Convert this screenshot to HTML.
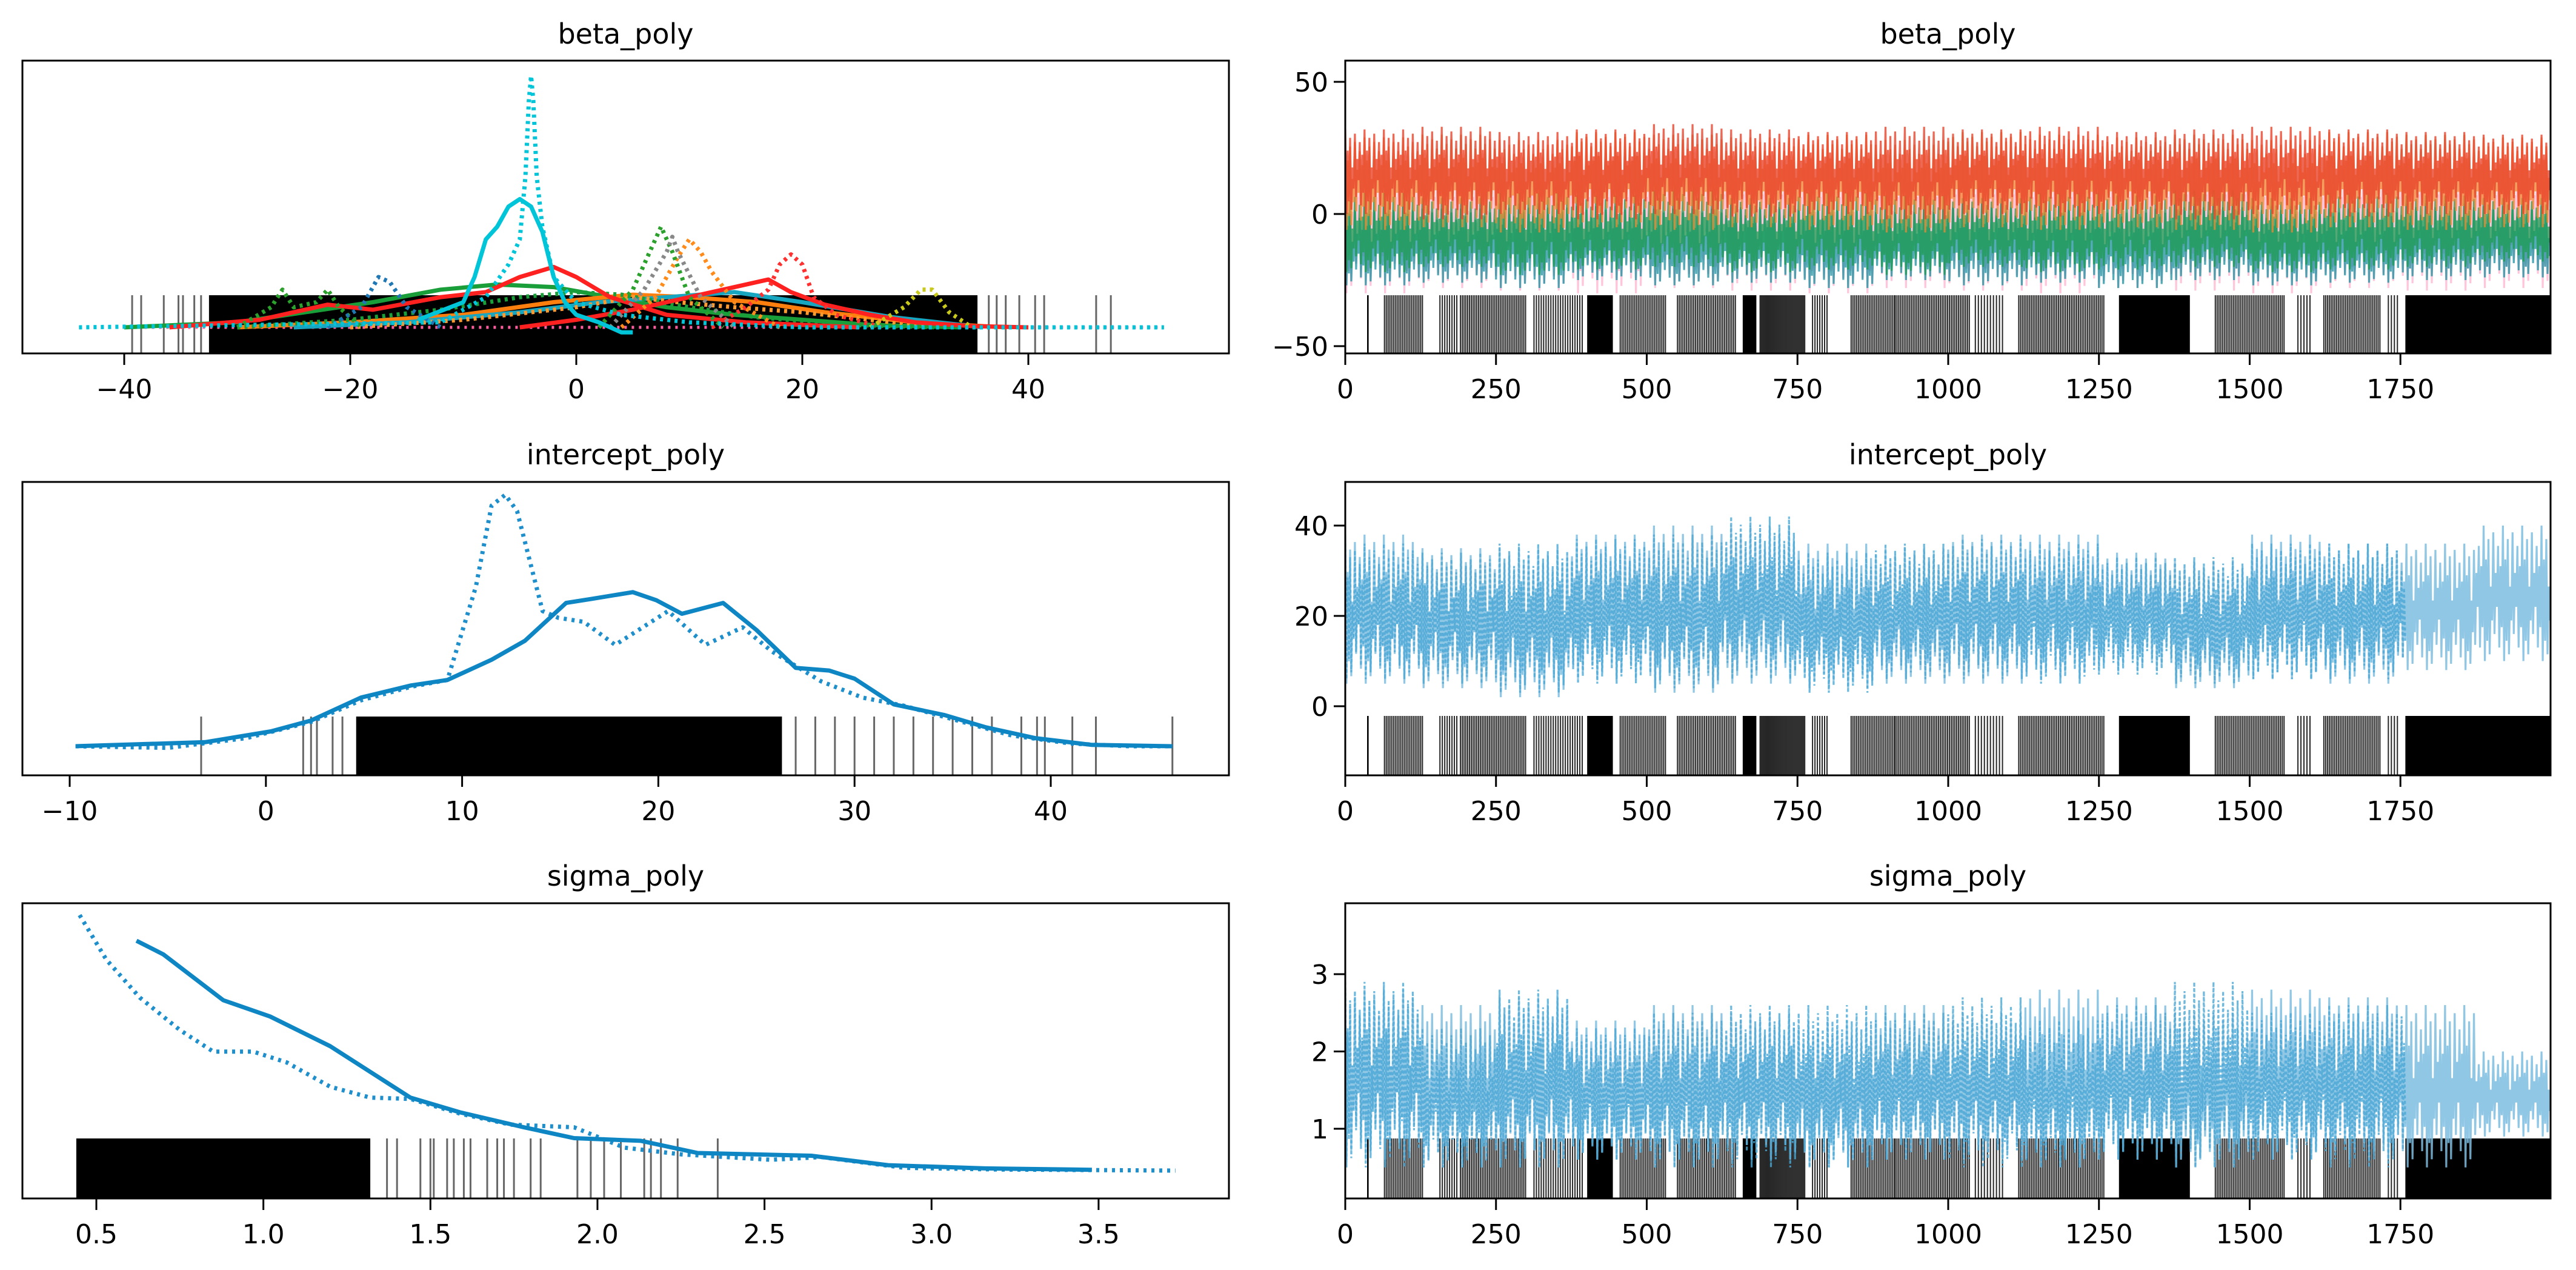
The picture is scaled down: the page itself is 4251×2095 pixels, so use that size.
<!DOCTYPE html>
<html><head><meta charset="utf-8"><style>
html,body{margin:0;padding:0;background:#fff;}
svg{display:block;}
text{font-family:"DejaVu Sans","Liberation Sans",sans-serif;fill:#000;}
</style></head><body>
<svg id="fig" width="4251" height="2095" viewBox="0 0 4251 2095" xmlns="http://www.w3.org/2000/svg"></svg>
<script>
// ---------- data ----------
const drawTicks = [0,250,500,750,1000,1250,1500,1750];
const betaLeftTicks = [-40,-20,0,20,40];
const interLeftTicks = [-10,0,10,20,30,40];
const sigmaLeftTicks = [0.5,1.0,1.5,2.0,2.5,3.0,3.5];
const sigmaLeftTickLabels = ["0.5","1.0","1.5","2.0","2.5","3.0","3.5"];
const betaRightTicks = [-50,0,50];
const interRightTicks = [0,20,40];
const sigmaRightTicks = [1,2,3];

// intercept KDE
const interSolidX = [-9.7,-3.1,0.25,2.3,4.85,7.4,9.25,11.5,13.2,15.3,16.6,18.7,19.9,21.2,23.3,25,27,28.7,30,32,34.6,36.7,39.2,42.1,46.2];
const interSolidD = [0,.015,.055,.095,.18,.225,.245,.32,.39,.53,.545,.57,.54,.49,.53,.43,.29,.28,.25,.155,.115,.07,.03,.005,0];
const interDotX = [-9.7,-5,-1,2.3,4.85,7.4,9.25,10.7,11.5,12.2,12.8,14.1,14.9,16.2,17.8,20.5,22.4,24.3,25.8,28.3,30.4,32.5,35,38,41,44,46.2];
const interDotD = [0,-.006,.03,.09,.17,.22,.245,.59,.89,.93,.87,.5,.475,.46,.375,.5,.375,.44,.35,.24,.18,.15,.1,.04,.01,0,0];
// sigma KDE
const sigSolidX = [0.62,0.70,0.88,1.02,1.2,1.44,1.59,1.78,1.93,2.13,2.3,2.64,2.87,3.16,3.48];
const sigSolidD = [.85,.8,.63,.57,.46,.27,.215,.16,.12,.11,.065,.055,.02,.008,.003];
const sigDotX = [0.45,0.53,0.63,0.75,0.85,0.97,1.07,1.2,1.32,1.44,1.59,1.74,1.93,2.08,2.25,2.52,2.67,2.92,3.2,3.73];
const sigDotD = [.945,.78,.64,.52,.44,.44,.40,.31,.27,.265,.21,.17,.16,.085,.06,.04,.05,.01,.004,0];
// beta KDE curves
const bCyanDotX = [-44,-12,-8,-6,-5,-4.5,-4.2,-4,-3.8,-3.5,-3,-2,0,4,10,20,52];
const bCyanDotD = [0,.02,.12,.25,.35,.6,.9,1.0,.9,.6,.4,.2,.1,.05,.02,0,0];
const bCyanX = [-14,-10,-9,-8,-7,-6,-5,-4,-3,-2,-1,0,2,4,5];
const bCyanD = [.03,.1,.2,.35,.4,.48,.51,.48,.38,.2,.1,.05,.02,-.02,-.02];
const bRed1X = [-36,-28,-22,-18,-12,-8,-5,-2,0,3,8,15,25];
const bRed1D = [0,.03,.09,.07,.12,.14,.2,.24,.2,.12,.05,.02,0];
const bRed2X = [-5,0,5,10,14,17,19,22,26,30,35,40];
const bRed2D = [0,.03,.07,.12,.16,.19,.14,.09,.05,.02,.005,0];
const bGreenX = [-40,-30,-24,-18,-12,-7,-2,3,8,14,20,26,34];
const bGreenD = [0,.02,.06,.1,.15,.17,.16,.12,.08,.05,.03,.01,0];
const bGreen2X = [-30,-20,-12,-5,0,4,10,16,24,32];
const bGreen2D = [0,.03,.07,.12,.14,.13,.08,.04,.01,0];
const bOrangeX = [-30,-20,-10,-2,5,10,16,22,30,38];
const bOrangeD = [0,.02,.05,.1,.13,.12,.1,.06,.02,0];
const bOrange2X = [-20,-10,0,5,9,14,20,28,36];
const bOrange2D = [0,.03,.08,.12,.1,.08,.06,.02,0];
const bTealX = [-25,-15,-5,2,8,14,20,28,36];
const bTealD = [0,.02,.06,.1,.12,.14,.1,.04,0];
const bRedDotX = [12,15,17,18,19,20,21,23,27];
const bRedDotD = [0,.08,.15,.25,.29,.25,.12,.05,0];
const bOrangeDotX = [4,7,9,10,11,12,14,18];
const bOrangeDotD = [0,.12,.28,.35,.3,.22,.1,0];
const bGreenDotX = [2,5,6.5,7.5,8.5,10,13];
const bGreenDotD = [0,.15,.3,.4,.3,.12,0];
const bGrayDotX = [3,6,8,8.5,9,11,14];
const bGrayDotD = [0,.15,.3,.36,.3,.12,0];
const bGreenDot2X = [-30,-27,-26,-25,-23,-22,-21,-19];
const bGreenDot2D = [0,.08,.15,.08,.1,.15,.08,0];
const bYellowDotX = [26,29,30.5,31.5,33,35];
const bYellowDotD = [0,.08,.15,.15,.06,0];
const bBlueDotX = [-22,-19,-17.5,-16.5,-15,-12];
const bBlueDotD = [0,.08,.2,.18,.08,0];
const bPinkTailX = [-44,-30,30,40,52];
const bPinkTailD = [0,0,0,0,0];

// trace envelopes (16 bins of 125 draws)
const interSolidLo = [5,4,2,6,3,5,4,5,5,6,8,4,6,5,8,10];
const interSolidHi = [38,35,35,38,40,40,36,35,38,38,34,32,38,36,36,40];
const interDotLo = [6,5,3,5,4,6,3,6,6,5,7,5,6,6,8];
const interDotHi = [36,34,36,37,38,42,34,36,37,36,33,33,36,36,34];
const sigSolidLo = [0.6,0.5,0.5,0.6,0.5,0.6,0.5,0.6,0.6,0.5,0.6,0.5,0.6,0.6,0.5,0.9];
const sigSolidHi = [2.8,2.6,2.7,2.4,2.6,2.5,2.4,2.6,2.5,2.8,2.7,2.5,2.8,2.7,2.6,2.0];
const sigDotLo = [0.5,0.5,0.5,0.6,0.5,0.5,0.5,0.6,0.5,0.5,0.6,0.5,0.6,0.5,0.5];
const sigDotHi = [2.9,2.3,2.8,2.3,2.5,2.6,2.6,2.5,2.7,2.4,2.6,2.9,2.5,2.6,2.8];
const betaRedLo = [0,-2,0,-2,0,-1,0,-2,0,-1,0,-2,0,-1,0,0];
const betaRedHi = [32,33,31,32,34,32,31,33,32,33,31,32,33,32,31,30];
const betaOrangeLo = [-6,-5,-7,-5,-6,-5,-6,-7,-5,-6,-5,-6,-7,-5,-6,-5];
const betaOrangeHi = [29,30,28,31,30,29,30,28,31,30,29,30,28,31,30,29];
const betaGreenLo = [-22,-20,-23,-21,-20,-22,-21,-23,-20,-22,-21,-20,-22,-21,-20,-18];
const betaGreenHi = [8,6,8,7,9,6,8,7,6,8,7,9,6,8,7,6];
const betaTealLo = [-27,-26,-28,-25,-27,-26,-28,-25,-27,-26,-28,-25,-27,-26,-25,-24];
const betaTealHi = [3,2,4,3,2,4,3,2,4,3,2,4,3,2,4,3];
const betaPinkLo = [-30,-28,-29,-30,-28,-29,-30,-28,-29,-30,-28,-29,-30,-28,-29,-28];
const betaPinkHi = [26,25,27,26,25,27,26,25,27,26,25,27,26,25,27,26];

// rugs
const rugRightStart = [37,65,157,191,313,402,456,551,660,688,775,839,912,1045,1117,1284,1443,1580,1623,1730,1759];
const rugRightEnd   = [38,130,185,300,395,443,531,647,681,763,800,912,1035,1090,1260,1400,1559,1600,1716,1745,1999];
const rugRightStep  = [1,3,4,3,4,1,3,3,1,2,4,3,3,5,3,1,3,5,3,5,1];
const betaRugSingles = [-39.3,-38.5,-36.5,-35.2,-34.8,-33.8,-33.2,36.5,37.2,38,39.2,40.6,41.4,46,47.3];
const betaRugBlock = [-32.5,35.5];
const interRugSingles = [-3.3,1.9,2.3,2.6,3.4,3.9,27,28,29,30,31,32,33,34,35,36,37,38.5,39.3,39.7,41.1,42.3,46.2];
const interRugBlock = [4.6,26.3];
const sigRugSingles = [1.37,1.4,1.47,1.5,1.51,1.55,1.57,1.6,1.62,1.67,1.7,1.72,1.75,1.8,1.83,1.94,1.98,2.02,2.07,2.14,2.16,2.19,2.24,2.36];
const sigRugBlock = [0.44,1.32];

// ---------- layout ----------
const NS = "http://www.w3.org/2000/svg";
const svg = document.getElementById('fig');
const L = {x0:37,x1:2028}, R = {x0:2220,x1:4209};
const rows = [{y0:100,y1:583},{y0:795,y1:1279},{y0:1490,y1:1977}];
const xBeta = v => 951 + v*18.65;
const xInter = v => 115 + (v+10)*32.38;
const xSig = v => 159 + (v-0.5)*551.3;
const xDraw = i => 2220 + i*0.995;
const yBetaR = v => 353 - v*4.36;
const yInterR = v => 1165 - v*7.45;
const ySigR = v => 1862 - (v-1)*127.5;
const yBetaL = d => 540 - d*415;
const yInterL = d => 1231 - d*446;
const ySigL = d => 1931 - d*446;

function el(tag, attrs, parent){
  const e = document.createElementNS(NS, tag);
  for (const k in attrs) e.setAttribute(k, attrs[k]);
  (parent||svg).appendChild(e);
  return e;
}
function group(name, clipId){
  const g = el('g', clipId ? {'clip-path':'url(#'+clipId+')'} : {});
  
  
  return g;
}
const defs = el('defs', {});
function clip(id, b, r){
  const c = el('clipPath', {id:id}, defs);
  el('rect', {x:b.x0, y:r.y0, width:b.x1-b.x0, height:r.y1-r.y0}, c);
}
clip('c0L', L, rows[0]); clip('c1L', L, rows[1]); clip('c2L', L, rows[2]);
clip('c0R', R, rows[0]); clip('c1R', R, rows[1]); clip('c2R', R, rows[2]);

function curve(g, xs, ds, fx, fy, color, dash, name, w){
  const pts = xs.map((x,i)=> fx(x).toFixed(1)+','+fy(ds[i]).toFixed(1)).join(' ');
  const p = el('polyline', {points:pts, fill:'none', stroke:color, 'stroke-width':w||7, 'stroke-linejoin':'round', 'stroke-dasharray':dash||'none'}, g);
  
  
}
const pattern = [1,0,0.75,0.15,0.9,0.05,0.55,0.3,0.95,0.2,0.65,0.4,0.85,0.1,0.7,0.25];
function trace(g, lo, hi, nDraws, fy, color, op, dash, name, stride){
  let pts = [];
  let k = 0;
  for (let i=0; i<nDraws; i+=stride){
    const b = Math.min(Math.floor(i/125), lo.length-1);
    const v = lo[b] + pattern[k%pattern.length]*(hi[b]-lo[b]);
    pts.push(xDraw(i).toFixed(1)+','+fy(v).toFixed(1));
    k++;
  }
  const p = el('polyline', {points:pts.join(' '), fill:'none', stroke:color, 'stroke-opacity':op, 'stroke-width':3.2, 'stroke-dasharray':dash||'none'}, g);
  
  
}
function rugRight(g, top, bot){
  for (let s=0; s<rugRightStart.length; s++){
    for (let i=rugRightStart[s]; i<=rugRightEnd[s]; i+=rugRightStep[s]){
      const x = xDraw(i);
      const l = el('line', {x1:x, x2:x, y1:top, y2:bot, stroke:'#000', 'stroke-width':rugRightStep[s]===1?1.6:2, 'stroke-opacity':rugRightStep[s]===1?1:0.85}, g);
      
      
    }
  }
}
function rugLeft(g, singles, block, fx, top, bot){
  const a = fx(block[0]), b = fx(block[1]);
  const r = el('rect', {x:a, y:top, width:b-a, height:bot-top, fill:'#000'}, g);
  
  
  singles.forEach(v=>{
    const x = fx(v);
    const l = el('line', {x1:x, x2:x, y1:top, y2:bot, stroke:'#000', 'stroke-width':3, 'stroke-opacity':0.6}, g);
    
    
  });
}
function frame(name, b, r){
  const f = el('rect', {x:b.x0, y:r.y0, width:b.x1-b.x0, height:r.y1-r.y0, fill:'none', stroke:'#000', 'stroke-width':3});
  
  
}
function title(txt, cx, y, name){
  const t = el('text', {x:cx, y:y, 'font-size':46, 'text-anchor':'middle'});
  t.textContent = txt;
  
  
}
function xticks(vals, labels, fx, r, name){
  const g = group(name);
  vals.forEach((v,i)=>{
    const x = fx(v);
    el('line', {x1:x, x2:x, y1:r.y1, y2:r.y1+19, stroke:'#000', 'stroke-width':3}, g);
    const t = el('text', {x:x, y:r.y1+74, 'font-size':44, 'text-anchor':'middle'}, g);
    t.textContent = labels ? labels[i] : String(v).replace('-','\u2212');
  });
}
function yticks(vals, fy, name){
  const g = group(name);
  vals.forEach(v=>{
    const y = fy(v);
    el('line', {x1:R.x0-19, x2:R.x0, y1:y, y2:y, stroke:'#000', 'stroke-width':3}, g);
    const t = el('text', {x:R.x0-28, y:y+16, 'font-size':44, 'text-anchor':'end'}, g);
    t.textContent = String(v).replace('-','\u2212');
  });
}

// ---------- beta left ----------
{
  const g = group('beta-kde-panel', 'c0L');
  rugLeft(g, betaRugSingles, betaRugBlock, xBeta, 487, 583);
  curve(g, bPinkTailX, bPinkTailD, xBeta, yBetaL, '#ff5fa0', '4,8', 'beta-kde-pink-tail', 5);
  curve(g, bGreenX, bGreenD, xBeta, yBetaL, '#1a9e3a', null, 'beta-kde-green');
  curve(g, bOrangeX, bOrangeD, xBeta, yBetaL, '#ff7f0e', null, 'beta-kde-orange');
  curve(g, bTealX, bTealD, xBeta, yBetaL, '#17a5c0', null, 'beta-kde-teal');
  curve(g, bOrange2X, bOrange2D, xBeta, yBetaL, '#ff9a2e', '5,7', 'beta-kde-orange-dotted');
  curve(g, bGreen2X, bGreen2D, xBeta, yBetaL, '#1a9e3a', '5,7', 'beta-kde-green-dotted');
  curve(g, bRed1X, bRed1D, xBeta, yBetaL, '#ff2020', null, 'beta-kde-red-1');
  curve(g, bRed2X, bRed2D, xBeta, yBetaL, '#ff2020', null, 'beta-kde-red-2');
  curve(g, bRedDotX, bRedDotD, xBeta, yBetaL, '#ff3030', '5,7', 'beta-kde-red-dotted');
  curve(g, bOrangeDotX, bOrangeDotD, xBeta, yBetaL, '#ff8c1a', '5,7', 'beta-kde-orange-spike');
  curve(g, bGreenDotX, bGreenDotD, xBeta, yBetaL, '#2ca02c', '5,7', 'beta-kde-green-spike');
  curve(g, bGrayDotX, bGrayDotD, xBeta, yBetaL, '#888888', '5,7', 'beta-kde-gray-spike');
  curve(g, bGreenDot2X, bGreenDot2D, xBeta, yBetaL, '#2ca02c', '5,7', 'beta-kde-green-left-spike');
  curve(g, bYellowDotX, bYellowDotD, xBeta, yBetaL, '#c8c81a', '5,7', 'beta-kde-yellow-spike');
  curve(g, bBlueDotX, bBlueDotD, xBeta, yBetaL, '#1f77b4', '5,7', 'beta-kde-blue-spike');
  curve(g, bCyanX, bCyanD, xBeta, yBetaL, '#00c5d8', null, 'beta-kde-cyan');
  curve(g, bCyanDotX, bCyanDotD, xBeta, yBetaL, '#00c5d8', '5,7', 'beta-kde-cyan-dotted');
}
frame('beta-kde-axes', L, rows[0]);
xticks(betaLeftTicks, null, xBeta, rows[0], 'beta-kde-x-axis');
title('beta_poly', (L.x0+L.x1)/2, 72, 'beta-kde-title');

// ---------- beta right ----------
{
  const g = group('beta-trace-panel', 'c0R');
  trace(g, betaPinkLo, betaPinkHi, 2000, yBetaR, '#ff7fb0', 0.45, null, 'beta-trace-pink', 2);
  trace(g, betaTealLo, betaTealHi, 2000, yBetaR, '#1a8fa0', 0.75, null, 'beta-trace-teal', 2);
  trace(g, betaGreenLo, betaGreenHi, 2000, yBetaR, '#1a9e50', 0.75, null, 'beta-trace-green', 2);
  trace(g, betaOrangeLo, betaOrangeHi, 2000, yBetaR, '#f08a30', 0.75, null, 'beta-trace-orange', 2);
  trace(g, betaRedLo, betaRedHi, 2000, yBetaR, '#e8442a', 0.8, null, 'beta-trace-red', 2);
  rugRight(g, 487, 583);
}
frame('beta-trace-axes', R, rows[0]);
xticks(drawTicks, null, xDraw, rows[0], 'beta-trace-x-axis');
yticks(betaRightTicks, yBetaR, 'beta-trace-y-axis');
title('beta_poly', (R.x0+R.x1)/2, 72, 'beta-trace-title');

// ---------- intercept left ----------
{
  const g = group('intercept-kde-panel', 'c1L');
  rugLeft(g, interRugSingles, interRugBlock, xInter, 1182, 1279);
  curve(g, interDotX, interDotD, xInter, yInterL, '#1f8fcc', '5,8', 'intercept-kde-dotted');
  curve(g, interSolidX, interSolidD, xInter, yInterL, '#0e86c4', null, 'intercept-kde-solid');
}
frame('intercept-kde-axes', L, rows[1]);
xticks(interLeftTicks, null, xInter, rows[1], 'intercept-kde-x-axis');
title('intercept_poly', (L.x0+L.x1)/2, 766, 'intercept-kde-title');

// ---------- intercept right ----------
{
  const g = group('intercept-trace-panel', 'c1R');
  rugRight(g, 1181, 1279);
  trace(g, interSolidLo, interSolidHi, 2000, yInterR, '#7dbde0', 0.85, null, 'intercept-trace-solid', 2);
  trace(g, interDotLo, interDotHi, 1760, yInterR, '#4aa8d6', 0.8, '5,4', 'intercept-trace-dotted', 2);
}
frame('intercept-trace-axes', R, rows[1]);
xticks(drawTicks, null, xDraw, rows[1], 'intercept-trace-x-axis');
yticks(interRightTicks, yInterR, 'intercept-trace-y-axis');
title('intercept_poly', (R.x0+R.x1)/2, 766, 'intercept-trace-title');

// ---------- sigma left ----------
{
  const g = group('sigma-kde-panel', 'c2L');
  rugLeft(g, sigRugSingles, sigRugBlock, xSig, 1878, 1977);
  curve(g, sigDotX, sigDotD, xSig, ySigL, '#1f8fcc', '5,8', 'sigma-kde-dotted');
  curve(g, sigSolidX, sigSolidD, xSig, ySigL, '#0e86c4', null, 'sigma-kde-solid');
}
frame('sigma-kde-axes', L, rows[2]);
xticks(sigmaLeftTicks, sigmaLeftTickLabels, xSig, rows[2], 'sigma-kde-x-axis');
title('sigma_poly', (L.x0+L.x1)/2, 1461, 'sigma-kde-title');

// ---------- sigma right ----------
{
  const g = group('sigma-trace-panel', 'c2R');
  rugRight(g, 1878, 1977);
  trace(g, sigSolidLo, sigSolidHi, 2000, ySigR, '#7dbde0', 0.85, null, 'sigma-trace-solid', 2);
  trace(g, sigDotLo, sigDotHi, 1760, ySigR, '#4aa8d6', 0.8, '5,4', 'sigma-trace-dotted', 2);
}
frame('sigma-trace-axes', R, rows[2]);
xticks(drawTicks, null, xDraw, rows[2], 'sigma-trace-x-axis');
yticks(sigmaRightTicks, ySigR, 'sigma-trace-y-axis');
title('sigma_poly', (R.x0+R.x1)/2, 1461, 'sigma-trace-title');
</script>
</body></html>
